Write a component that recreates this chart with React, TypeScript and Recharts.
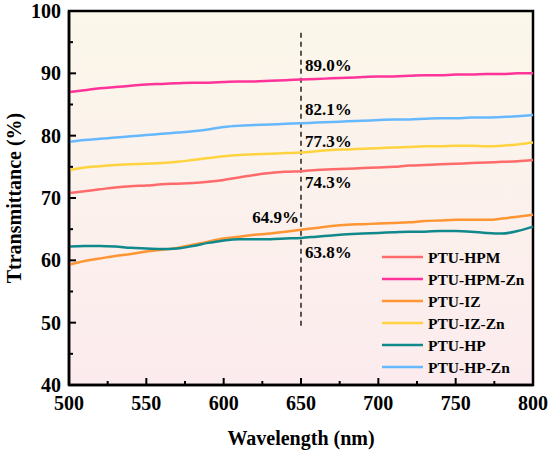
import { LineChart, Line, XAxis, YAxis, ReferenceArea, ReferenceLine, ReferenceDot, Legend } from 'recharts';

const wavelengths = [500, 510, 520, 530, 540, 550, 560, 570, 580, 590, 600, 610, 620, 630, 640, 650, 660, 670, 680, 690, 700, 710, 720, 730, 740, 750, 760, 770, 780, 790, 800];

const hpm = [70.8, 71.1, 71.4, 71.7, 71.9, 72.0, 72.2, 72.3, 72.4, 72.6, 72.9, 73.3, 73.7, 74.0, 74.2, 74.3, 74.5, 74.6, 74.7, 74.8, 74.9, 75.0, 75.2, 75.3, 75.4, 75.5, 75.6, 75.7, 75.8, 75.9, 76.1];
const hpmZn = [87.0, 87.3, 87.6, 87.8, 88.0, 88.2, 88.3, 88.4, 88.5, 88.5, 88.6, 88.7, 88.7, 88.8, 88.9, 89.0, 89.1, 89.2, 89.3, 89.4, 89.5, 89.5, 89.6, 89.7, 89.7, 89.8, 89.8, 89.9, 89.9, 90.0, 90.0];
const iz = [59.3, 59.9, 60.3, 60.7, 61.0, 61.4, 61.7, 62.0, 62.5, 63.0, 63.5, 63.8, 64.1, 64.3, 64.6, 64.9, 65.2, 65.5, 65.7, 65.8, 65.9, 66.0, 66.1, 66.3, 66.4, 66.5, 66.5, 66.5, 66.7, 67.0, 67.3];
const izZn = [74.5, 74.9, 75.1, 75.3, 75.4, 75.5, 75.6, 75.8, 76.1, 76.4, 76.7, 76.9, 77.0, 77.1, 77.2, 77.3, 77.5, 77.7, 77.8, 77.9, 78.0, 78.1, 78.2, 78.3, 78.3, 78.4, 78.4, 78.3, 78.4, 78.6, 78.9];
const hp = [62.2, 62.3, 62.3, 62.2, 62.0, 61.9, 61.8, 61.9, 62.3, 62.8, 63.2, 63.4, 63.4, 63.4, 63.5, 63.6, 63.8, 64.0, 64.2, 64.3, 64.4, 64.5, 64.6, 64.6, 64.7, 64.7, 64.6, 64.4, 64.3, 64.7, 65.4];
const hpZn = [79.0, 79.3, 79.5, 79.7, 79.9, 80.1, 80.3, 80.5, 80.7, 81.0, 81.4, 81.6, 81.7, 81.8, 81.9, 82.0, 82.1, 82.2, 82.3, 82.4, 82.5, 82.6, 82.6, 82.7, 82.8, 82.8, 82.9, 82.9, 83.0, 83.1, 83.3];

const seriesNames = ['PTU-HPM', 'PTU-HPM-Zn', 'PTU-IZ', 'PTU-IZ-Zn', 'PTU-HP', 'PTU-HP-Zn'];
const seriesColors = ['#FF6B6B', '#FF3399', '#FF9533', '#FFD340', '#10898C', '#66B8FF'];
const seriesValues = [hpm, hpmZn, iz, izZn, hp, hpZn];

const xTicks = [500, 525, 550, 575, 600, 625, 650, 675, 700, 725, 750, 775, 800];
const yTicks = [40, 45, 50, 55, 60, 65, 70, 75, 80, 85, 90, 95, 100];

// annotations at the 650 nm marker: text, anchor y value, side
const noteTexts = ['89.0%', '82.1%', '77.3%', '74.3%', '64.9%', '63.8%'];
const noteY = [91.3, 84.3, 79.1, 72.6, 67.0, 61.3];
const noteLeft = [false, false, false, false, true, false];

const data = wavelengths.map((w, i) => {
  const row: Record<string, number> = { w };
  seriesNames.forEach((n, k) => (row[n] = seriesValues[k][i]));
  return row;
});

const FONT = '"Liberation Serif", "Times New Roman", serif';

const XTick = ({ x, y, payload }: any) => {
  const major = payload.value % 50 === 0;
  return (
    <g>
      <line x1={x} x2={x} y1={y} y2={y - (major ? 7 : 4)} stroke="#000" strokeWidth={2} />
      {major && (
        <text x={x} y={y + 25} textAnchor="middle" fontFamily={FONT} fontWeight="bold" fontSize={20} fill="#000">
          {payload.value}
        </text>
      )}
    </g>
  );
};

const YTick = ({ x, y, payload }: any) => {
  const major = payload.value % 10 === 0;
  return (
    <g>
      <line x1={x} x2={x + (major ? 7 : 4)} y1={y} y2={y} stroke="#000" strokeWidth={2} />
      {major && (
        <text x={x - 8} y={y + 7} textAnchor="end" fontFamily={FONT} fontWeight="bold" fontSize={20} fill="#000">
          {payload.value}
        </text>
      )}
    </g>
  );
};

const renderLegend = () => (
  <svg width={150} height={140} style={{ display: 'block' }}>
    {seriesNames.map((n, i) => (
      <g key={n}>
        <line x1={2} x2={43} y1={11 + i * 22} y2={11 + i * 22} stroke={seriesColors[i]} strokeWidth={2.6} />
        <text x={48} y={16.5 + i * 22} fontFamily={FONT} fontWeight="bold" fontSize={15.5} fill="#000">
          {n}
        </text>
      </g>
    ))}
  </svg>
);

export default function App() {
  return (
    <div style={{ position: 'absolute', left: 0, top: 0, width: 550, height: 453, background: '#fff' }}>
      <LineChart width={550} height={453} data={data} margin={{ top: 11, right: 17, left: 0, bottom: 0 }}>
        <defs>
          <linearGradient id="bgGrad" x1="0" y1="0" x2="0" y2="1">
            <stop offset="0%" stopColor="#FBF7EA" />
            <stop offset="100%" stopColor="#FCEBEE" />
          </linearGradient>
        </defs>
        <ReferenceArea x1={500} x2={800} y1={40} y2={100} fill="url(#bgGrad)" fillOpacity={1} stroke="#000" strokeWidth={2.5} />
        <XAxis
          dataKey="w"
          type="number"
          domain={[500, 800]}
          ticks={xTicks}
          interval={0}
          height={68}
          tickSize={0}
          tickMargin={0}
          axisLine={{ stroke: '#000', strokeWidth: 2.5 }}
          tickLine={false}
          tick={<XTick />}
          label={{ value: 'Wavelength (nm)', position: 'insideBottom', offset: 8, fontFamily: FONT, fontWeight: 'bold', fontSize: 20, fill: '#000' }}
        />
        <YAxis
          type="number"
          domain={[40, 100]}
          ticks={yTicks}
          interval={0}
          width={69}
          tickSize={0}
          tickMargin={0}
          axisLine={{ stroke: '#000', strokeWidth: 2.5 }}
          tickLine={false}
          tick={<YTick />}
          label={{ value: 'Ttransmittance (%)', angle: -90, position: 'insideLeft', offset: 14, dy: 0, fontFamily: FONT, fontWeight: 'bold', fontSize: 20, fill: '#000', style: { textAnchor: 'middle' } }}
        />
        <ReferenceLine segment={[{ x: 650, y: 49.5 }, { x: 650, y: 97 }]} stroke="#000" strokeWidth={1.3} strokeDasharray="5 4" />
        {seriesNames.map((n, i) => (
          <Line key={n} type="monotone" dataKey={n} stroke={seriesColors[i]} strokeWidth={2.5} dot={false} isAnimationActive={false} />
        ))}
        {noteTexts.map((t, i) => (
          <ReferenceDot
            key={t}
            x={650}
            y={noteY[i]}
            r={0}
            fill="none"
            stroke="none"
            label={{
              value: t,
              position: noteLeft[i] ? 'left' : 'right',
              offset: noteLeft[i] ? 2 : 4,
              fontFamily: FONT,
              fontWeight: 'bold',
              fontSize: 17,
              fill: '#000',
            }}
          />
        ))}
        <Legend
          layout="vertical"
          align="center"
          verticalAlign="middle"
          content={renderLegend}
          wrapperStyle={{ position: 'absolute', left: 380, top: 246, width: 150, height: 140 }}
        />
      </LineChart>
    </div>
  );
}
